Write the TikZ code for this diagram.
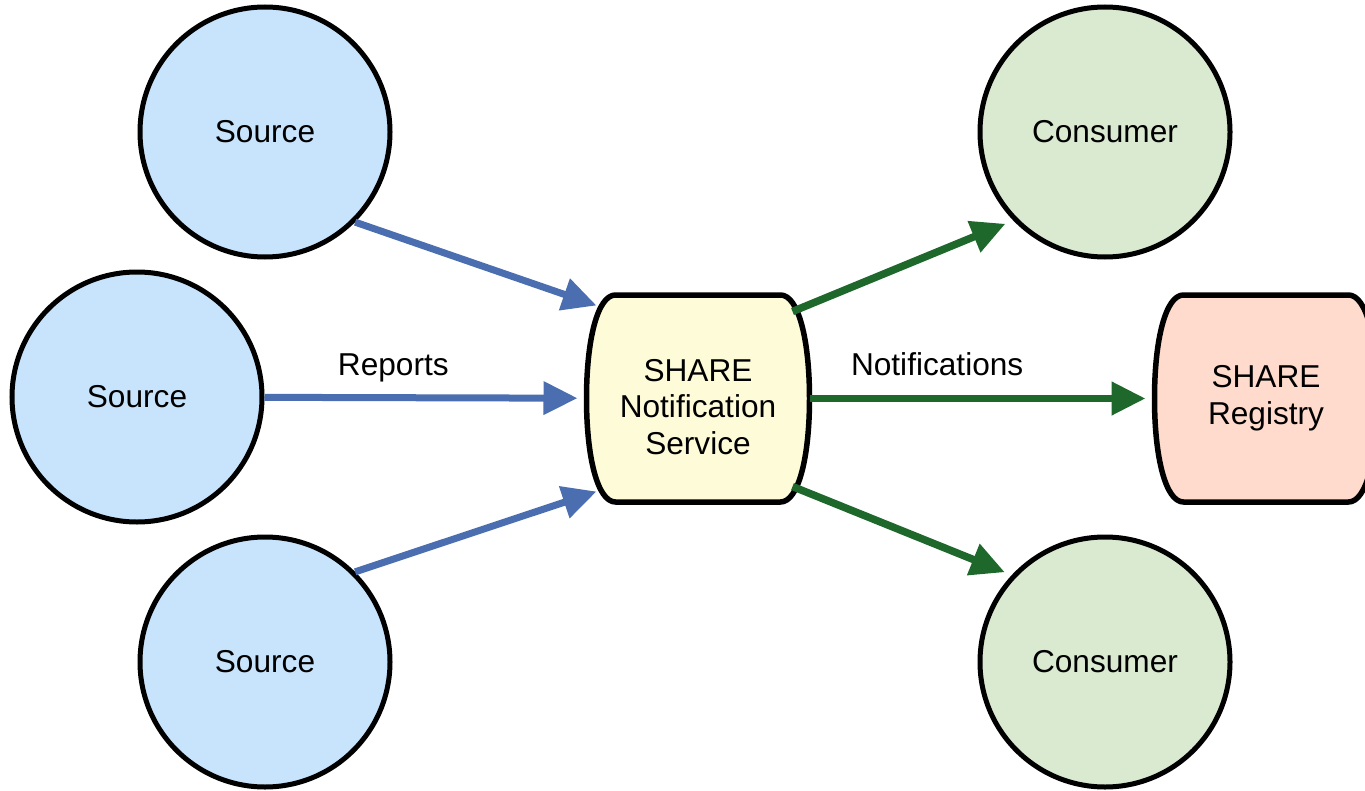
\documentclass[tikz,border=0pt]{standalone}
\usepackage{fontspec}
\setmainfont{Liberation Sans}
\usetikzlibrary{arrows.meta,backgrounds}
\definecolor{srcblue}{RGB}{200,228,252}
\definecolor{conggreen}{RGB}{217,234,208}
\definecolor{snsyellow}{RGB}{254,252,216}
\definecolor{regpink}{RGB}{254,219,204}
\definecolor{arrblue}{RGB}{74,110,176}
\definecolor{arrgreen}{RGB}{30,104,44}
\tikzset{
  ball/.style={draw, circle, minimum size=5cm, line width=0.1cm, font=\fontsize{18}{21}\selectfont},
  tube/.style={minimum width=4.46cm, minimum height=4.14cm, inner sep=0pt, outer sep=0pt, align=center, font=\fontsize{18}{21}\selectfont},
  tubeline/.style={line width=0.11cm, line join=round},
  feed/.style={line width=0.14cm, -{Triangle[length=0.68cm,width=0.64cm]}, line join=round},
  tag/.style={text=black, text height=0.72em, text depth=0.21em, font=\fontsize{18}{21}\selectfont}
}
\begin{document}
\begin{tikzpicture}
\useasboundingbox (0,0) rectangle (27.3,-15.82);
\node (src1) [ball, fill=srcblue] at (5.3,-2.64) {Source};
\node (src2) [ball, fill=srcblue] at (2.74,-7.94) {Source};
\node (src3) [ball, fill=srcblue] at (5.3,-13.24) {Source};
\node (con1) [ball, fill=conggreen] at (22.1,-2.64) {Consumer};
\node (con2) [ball, fill=conggreen] at (22.1,-13.24) {Consumer};
\node (sns) [tube, text height=2.26cm] at (13.96,-7.97) {SHARE\\Notification\\Service};
\node (reg) [tube] at (25.32,-7.97) {SHARE\\Registry};
% tube outlines behind the text
\begin{scope}[on background layer]
\foreach \n/\c in {sns/snsyellow, reg/regpink}
  \draw[tubeline, fill=\c] ([xshift=0.58cm]\n.north west) -- ([xshift=-0.58cm]\n.north east)
    .. controls ([xshift=-0.22cm]\n.north east) and ([yshift=-0.9cm]\n.north east) .. (\n.east)
    .. controls ([yshift=0.9cm]\n.south east) and ([xshift=-0.22cm]\n.south east) .. ([xshift=-0.58cm]\n.south east)
    -- ([xshift=0.58cm]\n.south west)
    .. controls ([xshift=0.22cm]\n.south west) and ([yshift=0.9cm]\n.south west) .. (\n.west)
    .. controls ([yshift=-0.9cm]\n.north west) and ([xshift=0.22cm]\n.north west) .. cycle;
\end{scope}
\path[feed, color=arrblue]
(src1.-45) edge ([shift={(0.2,-0.21)}]sns.north west)
(src2) edge [shorten >=0.18cm] node [tag, above=0.19cm, pos=0.40] {Reports} (sns)
(src3.45) edge ([shift={(0.2,0.21)}]sns.south west);
\path[feed, color=arrgreen, line width=0.15cm]
([shift={(-0.34,-0.33)}]sns.north east) edge [shorten >=0.17cm] (con1.224)
(sns) edge [shorten >=0.18cm] node [tag, above=0.19cm, pos=0.37] {Notifications} (reg)
([shift={(-0.34,0.31)}]sns.south east) edge [shorten >=0.15cm] (con2.137);
\end{tikzpicture}
\end{document}
